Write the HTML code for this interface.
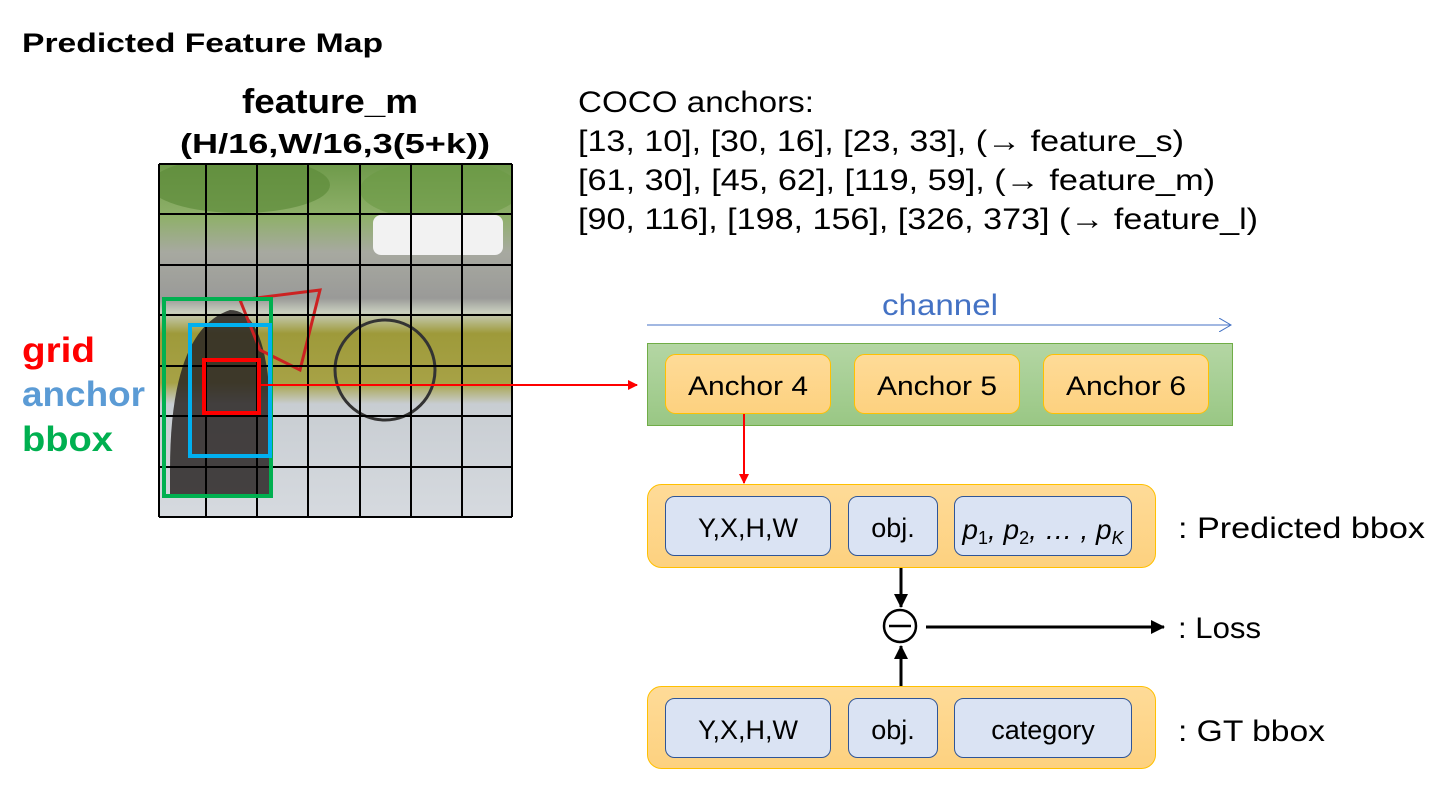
<!DOCTYPE html>
<html><head><meta charset="utf-8"><style>
html,body{margin:0;padding:0;background:#fff}
svg{display:block}
text{font-family:"Liberation Sans","Noto Sans CJK KR",sans-serif}
</style></head><body>
<svg width="1447" height="785" viewBox="0 0 1447 785" xmlns="http://www.w3.org/2000/svg">
<defs>
<clipPath id="imgclip"><rect x="159" y="164" width="353" height="353"/></clipPath>
<linearGradient id="sky" x1="0" y1="0" x2="0" y2="1">
<stop offset="0" stop-color="#6e9a4a"/><stop offset="0.15" stop-color="#8fb06a"/><stop offset="0.25" stop-color="#a7a9a0"/><stop offset="0.38" stop-color="#9a9a98"/><stop offset="0.42" stop-color="#c9cfbf"/><stop offset="0.48" stop-color="#9e9a3a"/><stop offset="0.62" stop-color="#a7a246"/><stop offset="0.68" stop-color="#c8cdd2"/><stop offset="1" stop-color="#d6dadf"/>
</linearGradient>
<linearGradient id="gbox" x1="0" y1="0" x2="0" y2="1"><stop offset="0" stop-color="#b4d6a4"/><stop offset="1" stop-color="#99c784"/></linearGradient>
<linearGradient id="obox" x1="0" y1="0" x2="0" y2="1"><stop offset="0" stop-color="#fedb98"/><stop offset="1" stop-color="#fdd17f"/></linearGradient>
<marker id="ar" markerWidth="10" markerHeight="10" refX="9" refY="5" orient="auto" markerUnits="userSpaceOnUse"><path d="M0,0 L10,5 L0,10 z" fill="#f00"/></marker>
<marker id="ab" markerWidth="14" markerHeight="14" refX="13" refY="7" orient="auto" markerUnits="userSpaceOnUse"><path d="M0,0 L14,7 L0,14 z" fill="#000"/></marker>
<marker id="abl" markerWidth="14" markerHeight="14" refX="12" refY="7" orient="auto" markerUnits="userSpaceOnUse"><path d="M0,0 L12,7 L0,14" fill="none" stroke="#4472c4" stroke-width="1"/></marker>
</defs>

<text x="22" y="52" font-size="27" font-weight="bold" textLength="361" lengthAdjust="spacingAndGlyphs">Predicted Feature Map</text>
<text x="242" y="113" font-size="34" font-weight="bold" textLength="176" lengthAdjust="spacingAndGlyphs">feature_m</text>
<text x="180" y="153" font-size="28" font-weight="bold" textLength="310" lengthAdjust="spacingAndGlyphs">(H/16,W/16,3(5+k))</text>

<!-- image -->
<g clip-path="url(#imgclip)">
<rect x="159" y="164" width="353" height="353" fill="url(#sky)"/>
<ellipse cx="240" cy="185" rx="90" ry="28" fill="#5e8c3a" opacity="0.7"/>
<ellipse cx="440" cy="190" rx="80" ry="30" fill="#6b9a44" opacity="0.6"/>
<rect x="373" y="215" width="130" height="40" rx="8" fill="#f2f2f2"/>
<path d="M170,470 Q170,330 230,310 Q265,310 270,400 L270,497 L170,497 z" fill="#2a2624" opacity="0.85"/>
<g fill="none" stroke="#c22" stroke-width="3"><path d="M240,300 L320,290 L300,370 L260,350 z"/></g>
<circle cx="385" cy="370" r="50" fill="none" stroke="#333" stroke-width="3"/>
</g>
<g stroke="#000" stroke-width="2">
<line x1="159" y1="164" x2="512" y2="164"/><line x1="159" y1="214" x2="512" y2="214"/><line x1="159" y1="265" x2="512" y2="265"/><line x1="159" y1="315" x2="512" y2="315"/><line x1="159" y1="366" x2="512" y2="366"/><line x1="159" y1="416" x2="512" y2="416"/><line x1="159" y1="467" x2="512" y2="467"/><line x1="159" y1="517" x2="512" y2="517"/>
<line x1="159" y1="164" x2="159" y2="517"/><line x1="206" y1="164" x2="206" y2="517"/><line x1="257" y1="164" x2="257" y2="517"/><line x1="308" y1="164" x2="308" y2="517"/><line x1="360" y1="164" x2="360" y2="517"/><line x1="411" y1="164" x2="411" y2="517"/><line x1="462" y1="164" x2="462" y2="517"/><line x1="512" y1="164" x2="512" y2="517"/>
</g>
<rect x="164" y="299" width="107" height="197" fill="none" stroke="#00b050" stroke-width="4"/>
<rect x="190" y="325" width="80" height="131" fill="none" stroke="#00b0f0" stroke-width="4"/>
<rect x="204" y="360" width="55" height="53" fill="none" stroke="#f00" stroke-width="4"/>
<line x1="259" y1="385" x2="637" y2="385" stroke="#f00" stroke-width="2" marker-end="url(#ar)"/>

<text x="22" y="362" font-size="35" font-weight="bold" fill="#f00" textLength="73" lengthAdjust="spacingAndGlyphs">grid</text>
<text x="22" y="406" font-size="35" font-weight="bold" fill="#5b9bd5" textLength="123" lengthAdjust="spacingAndGlyphs">anchor</text>
<text x="22" y="451" font-size="35" font-weight="bold" fill="#00b050" textLength="91" lengthAdjust="spacingAndGlyphs">bbox</text>

<g font-size="30">
<text x="578" y="112" textLength="236" lengthAdjust="spacingAndGlyphs">COCO anchors:</text>
<text x="578" y="151" textLength="606" lengthAdjust="spacingAndGlyphs">[13, 10], [30, 16], [23, 33], (→ feature_s)</text>
<text x="578" y="190" textLength="637" lengthAdjust="spacingAndGlyphs">[61, 30], [45, 62], [119, 59], (→ feature_m)</text>
<text x="578" y="229" textLength="680" lengthAdjust="spacingAndGlyphs">[90, 116], [198, 156], [326, 373] (→ feature_l)</text>
</g>

<text x="882" y="315" font-size="30" fill="#4472c4" textLength="116" lengthAdjust="spacingAndGlyphs">channel</text>
<line x1="647" y1="325" x2="1231" y2="325" stroke="#4472c4" stroke-width="1" marker-end="url(#abl)"/>

<rect x="647.5" y="343.5" width="585" height="82" fill="url(#gbox)" stroke="#70ad47" stroke-width="1"/>
<g stroke="#ffc000" stroke-width="1" fill="url(#obox)">
<rect x="665.5" y="354.5" width="165" height="59" rx="10"/>
<rect x="854.5" y="354.5" width="165" height="59" rx="10"/>
<rect x="1043.5" y="354.5" width="165" height="59" rx="10"/>
</g>
<g font-size="27">
<text x="688" y="395" textLength="120" lengthAdjust="spacingAndGlyphs">Anchor 4</text>
<text x="877" y="395" textLength="120" lengthAdjust="spacingAndGlyphs">Anchor 5</text>
<text x="1066" y="395" textLength="120" lengthAdjust="spacingAndGlyphs">Anchor 6</text>
</g>
<line x1="744" y1="414" x2="744" y2="483" stroke="#f00" stroke-width="2" marker-end="url(#ar)"/>

<rect x="647.5" y="484.5" width="508" height="83" rx="14" fill="url(#obox)" stroke="#ffc000"/>
<rect x="647.5" y="686.5" width="508" height="82" rx="14" fill="url(#obox)" stroke="#ffc000"/>
<g fill="#dae3f3" stroke="#2f5597" stroke-width="1">
<rect x="665.5" y="496.5" width="165" height="59" rx="9"/><rect x="848.5" y="496.5" width="89" height="59" rx="9"/><rect x="954.5" y="496.5" width="177" height="59" rx="9"/>
<rect x="665.5" y="698.5" width="165" height="59" rx="9"/><rect x="848.5" y="698.5" width="89" height="59" rx="9"/><rect x="954.5" y="698.5" width="177" height="59" rx="9"/>
</g>
<g font-size="27" text-anchor="middle">
<text x="748" y="537">Y,X,H,W</text><text x="893" y="537">obj.</text>
<text x="1043" y="539" font-family="Liberation Serif,serif" font-style="italic" font-size="28">p<tspan font-size="18" dy="5" font-style="normal">1</tspan><tspan dy="-5">, p</tspan><tspan font-size="18" dy="5" font-style="normal">2</tspan><tspan dy="-5">, … , p</tspan><tspan font-size="18" dy="5">K</tspan></text>
<text x="748" y="739">Y,X,H,W</text><text x="893" y="739">obj.</text><text x="1043" y="739">category</text>
</g>

<line x1="901" y1="568" x2="901" y2="607" stroke="#000" stroke-width="3" marker-end="url(#ab)"/>
<line x1="901" y1="686" x2="901" y2="646" stroke="#000" stroke-width="3" marker-end="url(#ab)"/>
<circle cx="900" cy="626" r="16" fill="#fff" stroke="#000" stroke-width="2.5"/>
<line x1="889" y1="626" x2="911" y2="626" stroke="#000" stroke-width="2.5"/>
<line x1="926" y1="627" x2="1164" y2="627" stroke="#000" stroke-width="3" marker-end="url(#ab)"/>

<g font-size="30">
<text x="1178" y="538" textLength="247" lengthAdjust="spacingAndGlyphs">: Predicted bbox</text>
<text x="1178" y="638" textLength="83" lengthAdjust="spacingAndGlyphs">: Loss</text>
<text x="1178" y="741" textLength="147" lengthAdjust="spacingAndGlyphs">: GT bbox</text>
</g>
</svg>
</body></html>
